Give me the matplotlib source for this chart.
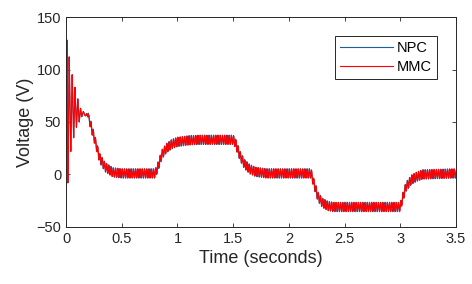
import numpy as np
import matplotlib
matplotlib.use('Agg')
from matplotlib import pyplot as plt

plt.rcParams['font.family'] = ['Liberation Sans', 'DejaVu Sans']

# start-up transient, peaks and troughs (s, V)
t_start = [0.0, 0.008, 0.016, 0.028, 0.042, 0.055, 0.068, 0.080, 0.093,
           0.105, 0.118, 0.130, 0.140, 0.155, 0.170, 0.190]
v_start = [0, 128, -8, 112, 22, 95, 35, 83, 45, 72, 50, 63, 55, 60, 56, 57]

# slow envelope after the transient (s, V)
t_env = [0.20, 0.25, 0.30, 0.35, 0.42, 0.50, 0.80, 0.82, 0.86, 0.90, 0.95,
         1.00, 1.10, 1.20, 1.50, 1.52, 1.56, 1.60, 1.65, 1.70, 1.80, 2.20,
         2.22, 2.26, 2.30, 2.35, 2.40, 3.00, 3.02, 3.05, 3.10, 3.15, 3.20, 3.50]
v_env = [55, 36, 16, 7, 2, 1, 1, 6, 19, 25, 29, 31, 32.5, 33, 33, 30, 18, 10,
         5, 2.5, 1, 1, -7, -21, -27, -30, -31, -31, -23, -12, -5, -2, 0, 1]

ripple_amp = [4.5, 4.2]      # NPC, MMC
ripple_hz = [50, 50]
ripple_phase = [0.6, 0.0]
names = ['NPC', 'MMC']
colors = ['#1A5E9E', '#FF0000']

t = np.linspace(0, 3.5, 14000)
base = np.where(t < t_env[0], np.interp(t, t_start, v_start), np.interp(t, t_env, v_env))
ramp = np.clip((t - 0.17) / 0.05, 0, 1)

fig = plt.figure(figsize=(4.72, 2.84), dpi=100)
ax = fig.add_axes([0.14, 0.201, 0.826, 0.739])
for i in range(2):
    y = base + ramp * ripple_amp[i] * np.sin(2 * np.pi * ripple_hz[i] * t + ripple_phase[i])
    ax.plot(t, y, color=colors[i], lw=0.8, label=names[i])

ax.set_xlim(0, 3.5)
ax.set_ylim(-50, 150)
ax.set_xticks([0, 0.5, 1, 1.5, 2, 2.5, 3, 3.5])
ax.set_xticklabels(['0', '0.5', '1', '1.5', '2', '2.5', '3', '3.5'])
ax.set_yticks([-50, 0, 50, 100, 150])
ax.tick_params(direction='in', top=True, right=True, length=3, labelsize=10.5,
               colors='#262626', width=0.6)
for s in ax.spines.values():
    s.set_color('#262626')
    s.set_linewidth(0.7)
ax.set_xlabel('Time (seconds)', fontsize=13, color='#262626', labelpad=3)
ax.set_ylabel('Voltage (V)', fontsize=13, color='#262626', labelpad=2)
leg = ax.legend(loc='upper right', fontsize=10.5, handlelength=3.6, fancybox=False,
                framealpha=1, edgecolor='#262626', borderaxespad=1.3,
                handletextpad=0.3, labelspacing=0.35, borderpad=0.35)
leg.get_frame().set_linewidth(0.7)

fig.savefig('out.png', dpi=100)
